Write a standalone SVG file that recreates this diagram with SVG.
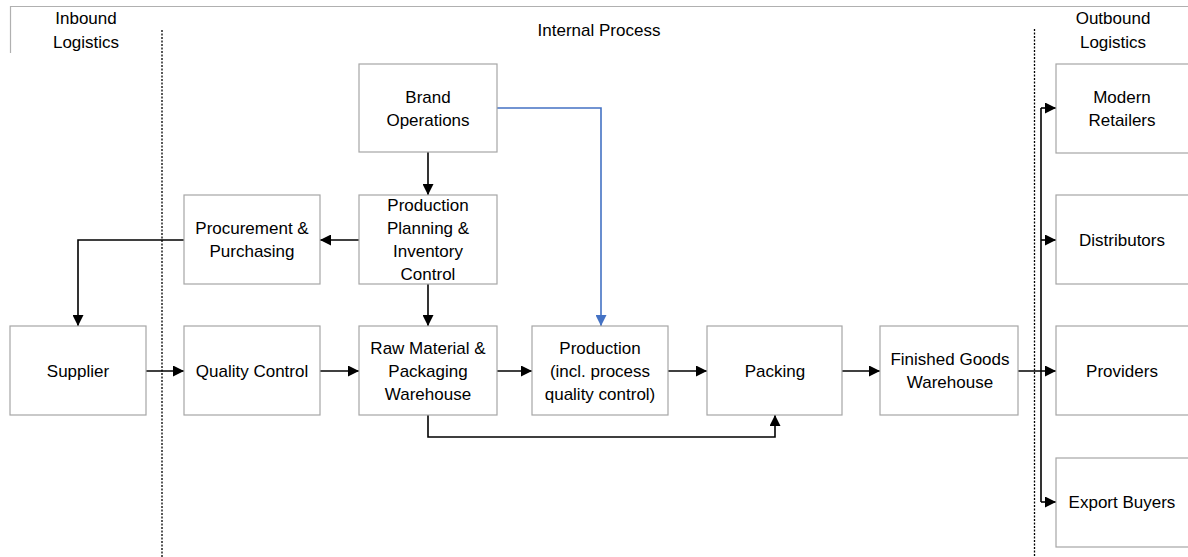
<svg xmlns="http://www.w3.org/2000/svg" width="1188" height="557" viewBox="0 0 1188 557">
<style>
.box{fill:#fff;stroke:#a6a6a6;stroke-width:1.2}
.t{font-family:"Liberation Sans",Arial,sans-serif;font-size:17px;fill:#000;text-anchor:middle;dominant-baseline:central}
.c{fill:none;stroke:#000;stroke-width:1.6}
.b{fill:none;stroke:#4472C4;stroke-width:1.6}
.dot{stroke:#000;stroke-width:1.3;stroke-dasharray:2 1.5}
.frame{stroke:#b0b0b0;stroke-width:1.2;fill:none}
</style>
<defs>
<marker id="ah" markerUnits="userSpaceOnUse" markerWidth="11" markerHeight="11" refX="11" refY="5.5" orient="auto"><path d="M0,0 L11,5.5 L0,11 z" fill="#000"/></marker>
<marker id="ahb" markerUnits="userSpaceOnUse" markerWidth="11" markerHeight="11" refX="11" refY="5.5" orient="auto"><path d="M0,0 L11,5.5 L0,11 z" fill="#4472C4"/></marker>
</defs>
<rect width="1188" height="557" fill="#fff"/>
<g id="frame">
<line class="frame" x1="10" y1="6.5" x2="1188" y2="6.5"/>
<line class="frame" x1="10.5" y1="6" x2="10.5" y2="53"/>
<line class="dot" x1="162" y1="30" x2="162" y2="557"/>
<line class="dot" x1="1034.5" y1="29" x2="1034.5" y2="557"/>
</g>
<g id="headers">
<text class="t" x="86" y="18">Inbound</text>
<text class="t" x="86" y="42">Logistics</text>
<text class="t" x="599" y="30">Internal Process</text>
<text class="t" x="1113" y="18">Outbound</text>
<text class="t" x="1113" y="42">Logistics</text>
</g>
<g id="connectors">
<line class="c" x1="428" y1="152" x2="428" y2="195" marker-end="url(#ah)"/>
<polyline class="b" points="497,108 601,108 601,326" marker-end="url(#ahb)"/>
<line class="c" x1="359" y1="240" x2="320" y2="240" marker-end="url(#ah)"/>
<polyline class="c" points="184,240 78,240 78,326" marker-end="url(#ah)"/>
<line class="c" x1="428" y1="284" x2="428" y2="326" marker-end="url(#ah)"/>
<line class="c" x1="146" y1="371" x2="184" y2="371" marker-end="url(#ah)"/>
<line class="c" x1="320" y1="371" x2="359" y2="371" marker-end="url(#ah)"/>
<line class="c" x1="497" y1="371" x2="532" y2="371" marker-end="url(#ah)"/>
<line class="c" x1="668" y1="371" x2="707" y2="371" marker-end="url(#ah)"/>
<line class="c" x1="842" y1="371" x2="880" y2="371" marker-end="url(#ah)"/>
<line class="c" x1="1018" y1="371" x2="1056" y2="371" marker-end="url(#ah)"/>
<polyline class="c" points="428,415 428,437 775,437 775,415" marker-end="url(#ah)"/>
<line class="c" x1="1041" y1="108" x2="1041" y2="502"/>
<line class="c" x1="1041" y1="108" x2="1056" y2="108" marker-end="url(#ah)"/>
<line class="c" x1="1041" y1="240" x2="1056" y2="240" marker-end="url(#ah)"/>
<line class="c" x1="1041" y1="502" x2="1056" y2="502" marker-end="url(#ah)"/>
</g>
<g id="brand"><rect class="box" x="359" y="64" width="138" height="88"/><text class="t" x="428" y="97">Brand</text><text class="t" x="428" y="120">Operations</text></g>
<g id="ppic"><rect class="box" x="359" y="195" width="138" height="89"/><text class="t" x="428" y="205">Production</text><text class="t" x="428" y="228">Planning &amp;</text><text class="t" x="428" y="251">Inventory</text><text class="t" x="428" y="274">Control</text></g>
<g id="procurement"><rect class="box" x="184" y="195" width="136" height="89"/><text class="t" x="252" y="228">Procurement &amp;</text><text class="t" x="252" y="251">Purchasing</text></g>
<g id="supplier"><rect class="box" x="10" y="326" width="136" height="89"/><text class="t" x="78" y="371">Supplier</text></g>
<g id="qc"><rect class="box" x="184" y="326" width="136" height="89"/><text class="t" x="252" y="371">Quality Control</text></g>
<g id="rawmat"><rect class="box" x="359" y="326" width="138" height="89"/><text class="t" x="428" y="348">Raw Material &amp;</text><text class="t" x="428" y="371">Packaging</text><text class="t" x="428" y="394">Warehouse</text></g>
<g id="production"><rect class="box" x="532" y="326" width="136" height="89"/><text class="t" x="600" y="348">Production</text><text class="t" x="600" y="371">(incl. process</text><text class="t" x="600" y="394">quality control)</text></g>
<g id="packing"><rect class="box" x="707" y="326" width="135" height="89"/><text class="t" x="775" y="371">Packing</text></g>
<g id="fgw"><rect class="box" x="880" y="326" width="138" height="89"/><text class="t" x="950" y="359">Finished Goods</text><text class="t" x="950" y="382">Warehouse</text></g>
<g id="retailers"><rect class="box" x="1056" y="64" width="140" height="89"/><text class="t" x="1122" y="97">Modern</text><text class="t" x="1122" y="120">Retailers</text></g>
<g id="distributors"><rect class="box" x="1056" y="195" width="140" height="89"/><text class="t" x="1122" y="240">Distributors</text></g>
<g id="providers"><rect class="box" x="1056" y="326" width="140" height="89"/><text class="t" x="1122" y="371">Providers</text></g>
<g id="export"><rect class="box" x="1056" y="458" width="140" height="89"/><text class="t" x="1122" y="502">Export Buyers</text></g>
</svg>
